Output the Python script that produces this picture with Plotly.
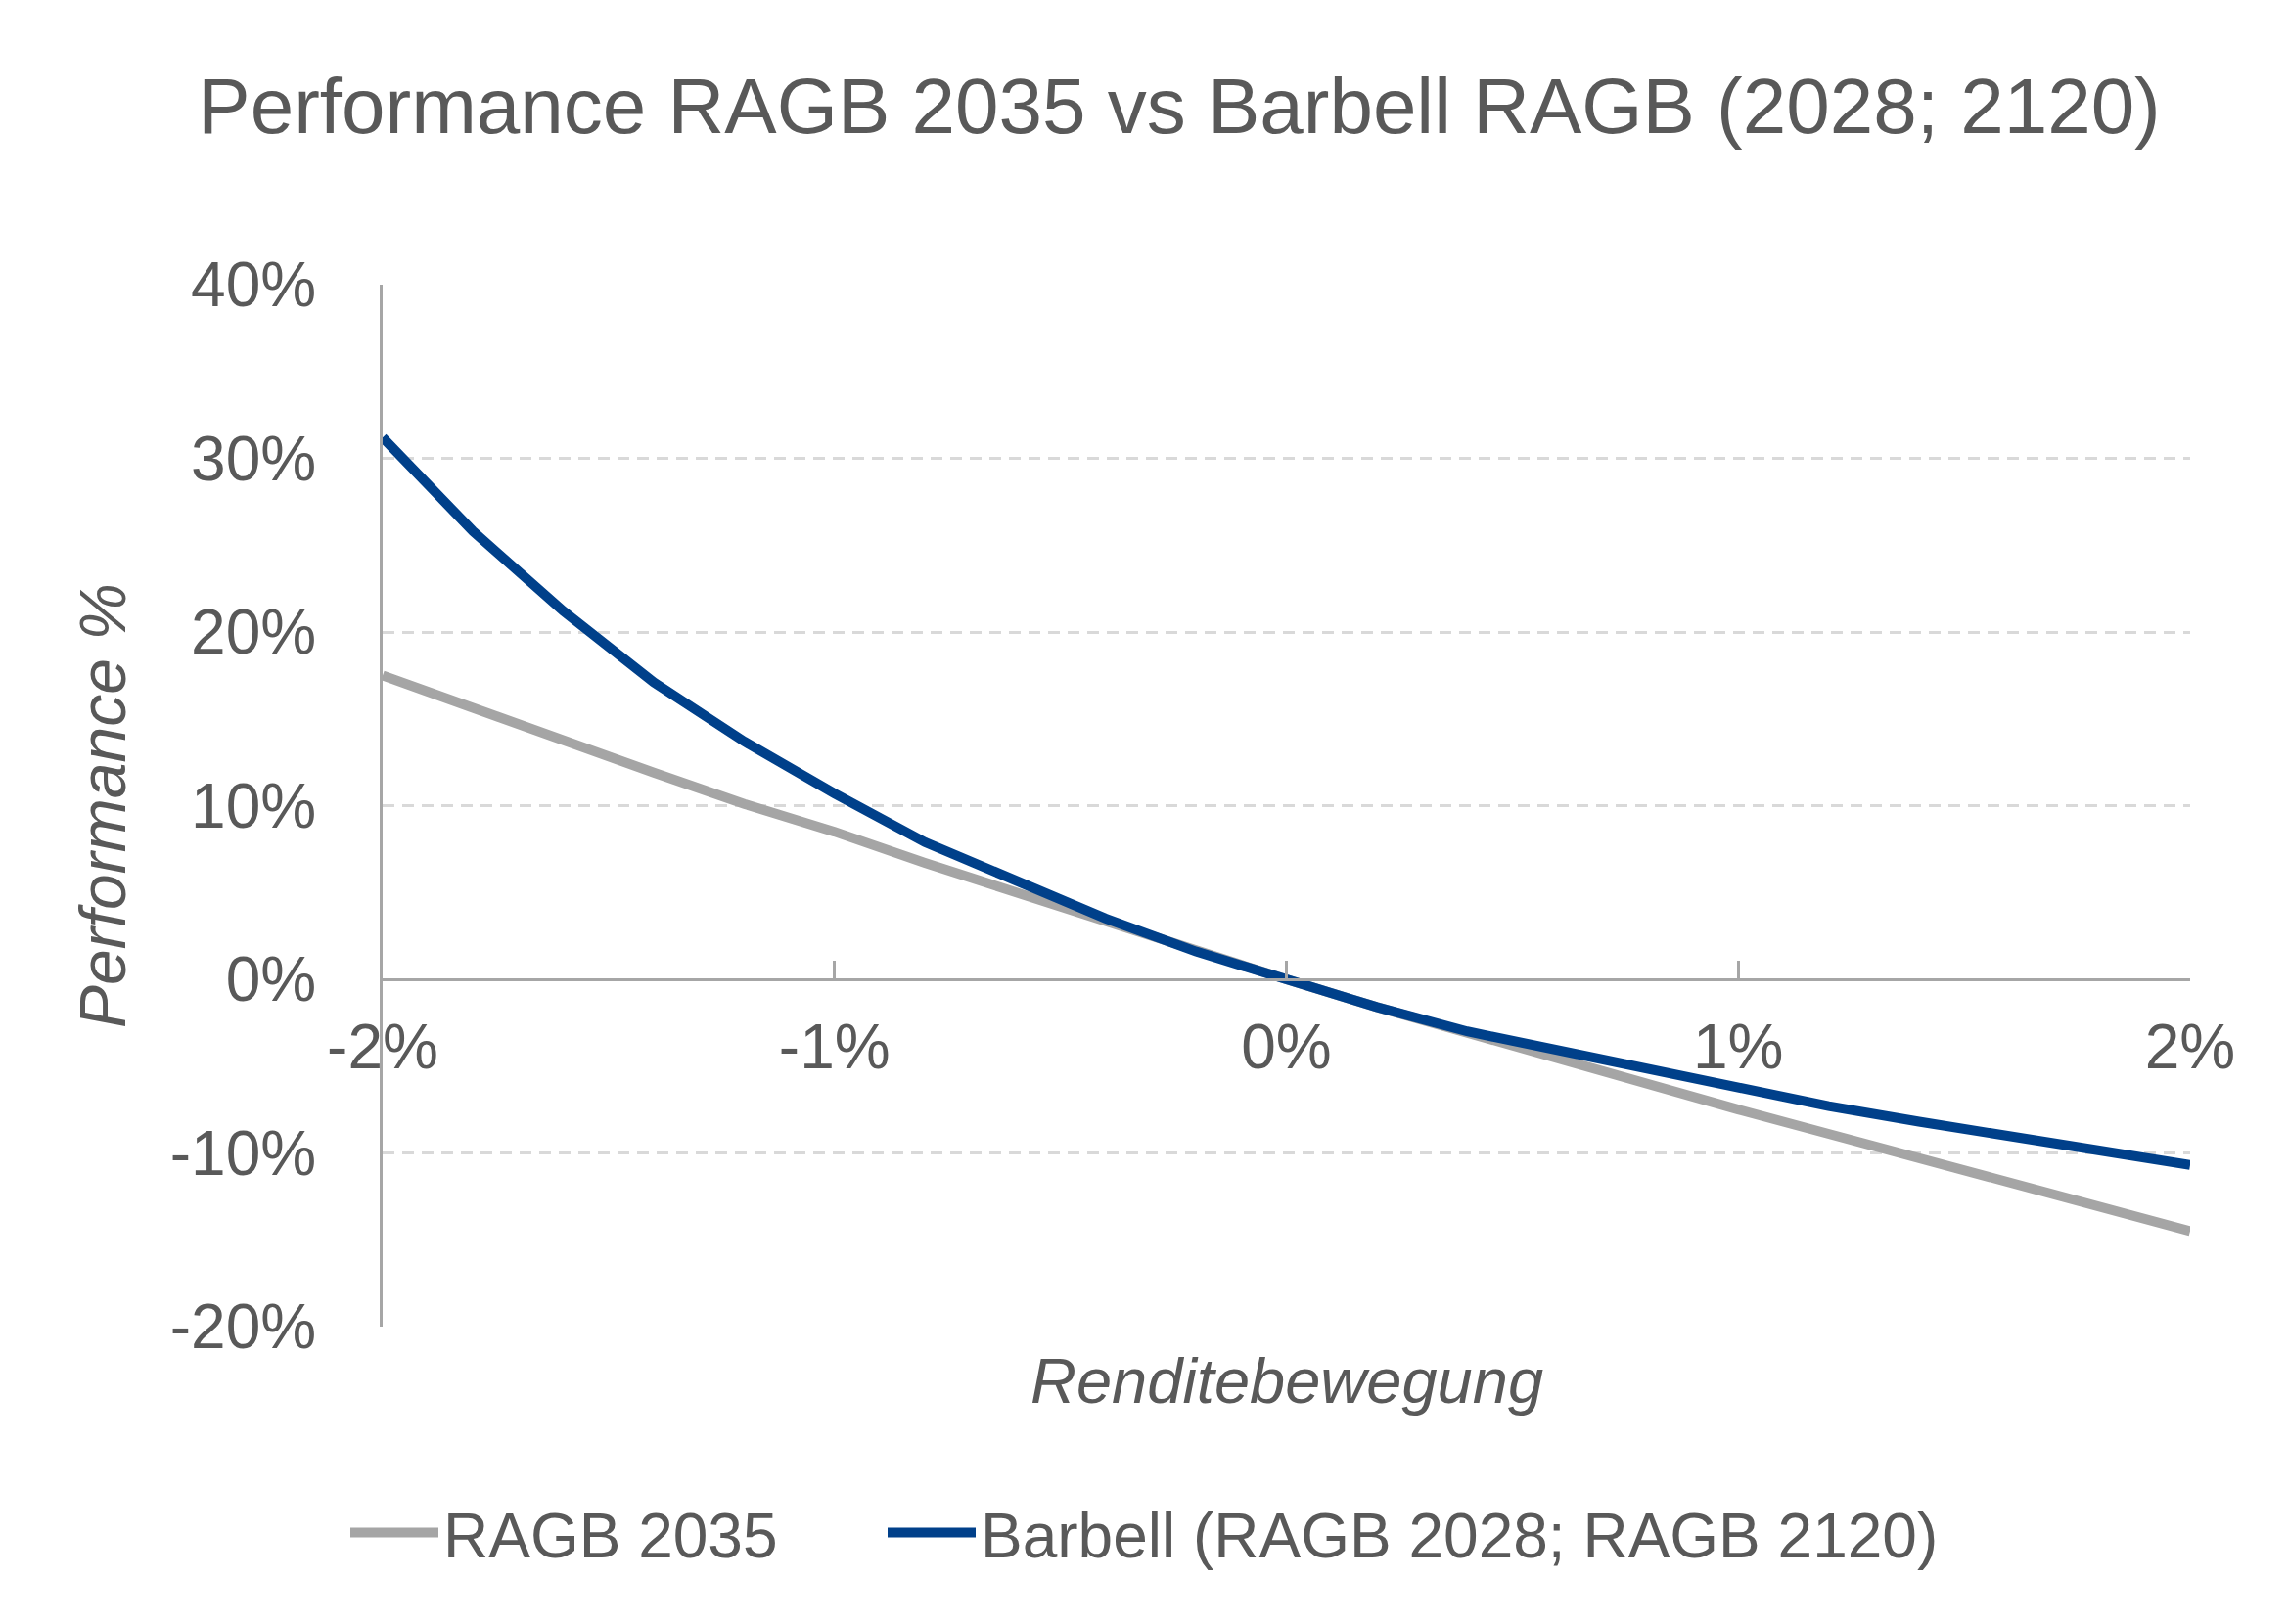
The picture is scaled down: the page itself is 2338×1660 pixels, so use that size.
import plotly.graph_objects as go

# Data (yield shift, performance as fraction)
rendite_shift = [-0.02, -0.018, -0.016, -0.014, -0.012, -0.010, -0.008, -0.006, -0.004, -0.002,
                 0.0, 0.002, 0.004, 0.006, 0.008, 0.010, 0.012, 0.014, 0.016, 0.018, 0.020]
ragb_2035 = [0.175, 0.156, 0.1375, 0.119, 0.101, 0.085, 0.067, 0.050, 0.034, 0.016,
             0.0, -0.016, -0.031, -0.045, -0.060, -0.075, -0.089, -0.103, -0.117, -0.131, -0.145]
barbell = [0.312, 0.258, 0.212, 0.171, 0.137, 0.107, 0.079, 0.057, 0.035, 0.016,
           0.0, -0.016, -0.030, -0.041, -0.052, -0.063, -0.073, -0.082, -0.090, -0.099, -0.107]
series_names = ["RAGB 2035", "Barbell (RAGB 2028; RAGB 2120)"]
x_ticks = [-0.02, -0.01, 0.0, 0.01, 0.02]
x_tick_labels = ["-2%", "-1%", "0%", "1%", "2%"]
y_ticks = [-0.2, -0.1, 0.0, 0.1, 0.2, 0.3, 0.4]
y_tick_labels = ["-20%", "-10%", "0%", "10%", "20%", "30%", "40%"]

TEXT = "#595959"
FONT = "Liberation Sans"
GREY = "#A5A5A5"
BLUE = "#00408A"
AXIS = "#A6A6A6"

fig = go.Figure()
fig.add_trace(go.Scatter(x=rendite_shift, y=ragb_2035, mode="lines", name=series_names[0],
                         line=dict(color=GREY, width=10), legend="legend"))
fig.add_trace(go.Scatter(x=rendite_shift, y=barbell, mode="lines", name=series_names[1],
                         line=dict(color=BLUE, width=10), legend="legend2"))

W, H = 2338, 1660
ml, mr, mt, mb = 383, 108, 283, 312
plot_h = H - mt - mb
legend_common = dict(orientation="h", xanchor="left", xref="container",
                     y=1 - 1559 / H, yanchor="middle", yref="container",
                     font=dict(size=64, color=TEXT, family=FONT),
                     itemwidth=90, bgcolor="rgba(0,0,0,0)")
fig.update_layout(
    width=W, height=H,
    margin=dict(l=ml, r=mr, t=mt, b=mb),
    paper_bgcolor="white", plot_bgcolor="white",
    font=dict(family=FONT, color=TEXT),
    title=dict(text="Performance RAGB 2035 vs Barbell RAGB (2028; 2120)",
               x=0.512, xanchor="center", xref="container",
               y=1 - 100 / H, yanchor="middle", yref="container",
               font=dict(size=80, color=TEXT, family=FONT)),
    showlegend=True,
    legend=dict(x=345 / W, **legend_common),
    legend2=dict(x=894 / W, **legend_common),
    xaxis=dict(range=[-0.02, 0.02], tickvals=x_ticks, ticktext=x_tick_labels,
               anchor="free", position=1 / 3,
               showline=True, linecolor=AXIS, linewidth=3,
               ticks="inside", ticklen=18, tickwidth=3, tickcolor=AXIS,
               showgrid=False, zeroline=False,
               tickfont=dict(size=64, color=TEXT, family=FONT),
               ticklabelstandoff=12),
    yaxis=dict(range=[-0.2, 0.4], tickvals=y_ticks, ticktext=y_tick_labels,
               showline=True, linecolor=AXIS, linewidth=3,
               ticks="", showgrid=True, gridcolor="#D9D9D9", gridwidth=2.5, griddash="12px,8px",
               zeroline=False,
               tickfont=dict(size=64, color=TEXT, family=FONT),
               ticklabelstandoff=52,
               title=dict(text="<i>Performance %</i>", font=dict(size=66, color=TEXT, family=FONT),
                          standoff=24)),
    annotations=[dict(text="<i>Renditebewegung</i>", xref="paper", yref="paper",
                      x=0.5, y=-55 / plot_h, xanchor="center", yanchor="middle",
                      showarrow=False, font=dict(size=65, color=TEXT, family=FONT))],
)

fig.write_html("out.html")
